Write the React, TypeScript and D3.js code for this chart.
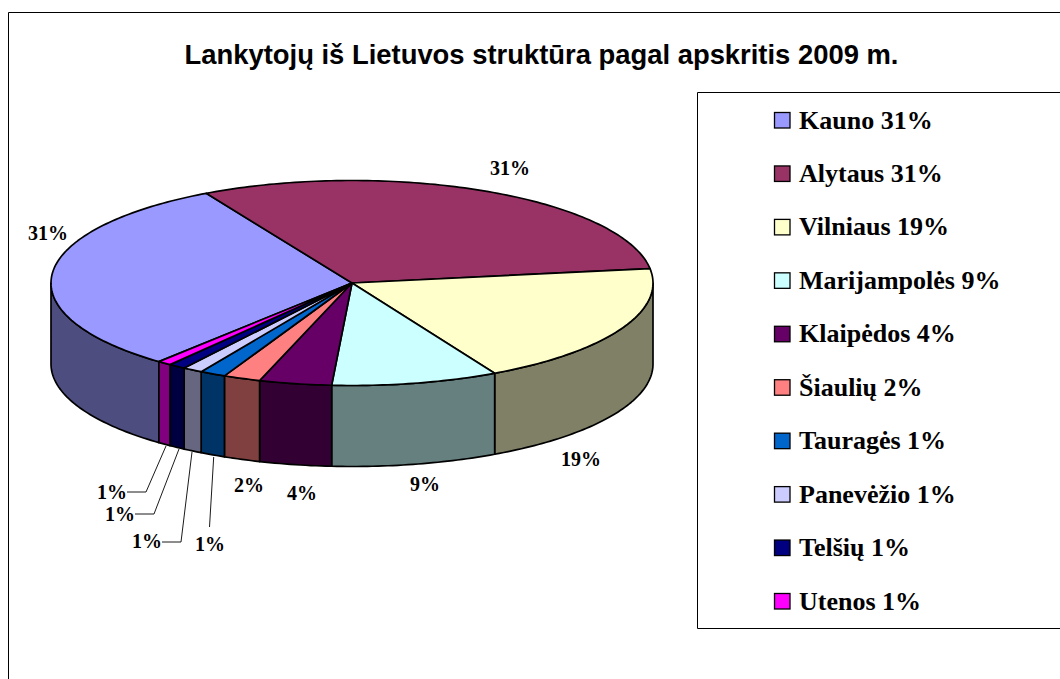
import React from "react";
import * as d3 from "d3";

const title = "Lankytojų iš Lietuvos struktūra pagal apskritis 2009 m.";
const categories = ["Kauno", "Alytaus", "Vilniaus", "Marijampolės", "Klaipėdos", "Šiaulių", "Tauragės", "Panevėžio", "Telšių", "Utenos"];
const values = [30.88, 30.82, 19.39, 8.94, 3.89, 2.0, 1.39, 1.06, 0.92, 0.75];
const percentLabels = ["31%", "31%", "19%", "9%", "4%", "2%", "1%", "1%", "1%", "1%"];
const colors = ["#9999FF", "#993366", "#FFFFCC", "#CCFFFF", "#660066", "#FF8080", "#0066CC", "#CCCCFF", "#000080", "#FF00FF"];

const W = 1060, H = 679;
const cx = 352, cy = 283, rx = 301, ry = 102.5, depth = 81;
const startDeg = 219.9;

const labelPos: [number, number][] = [
  [48, 233], [510, 168], [581, 459], [425, 484], [302, 493], [249, 485],
  [210, 544], [147, 541], [120, 514], [112, 492],
];
const leaders: ([number, number][] | null)[] = [
  null, null, null, null, null, null,
  [[209.5, 527], [213.7, 457]],
  [[162, 542], [181, 542], [192, 452]],
  [[135, 514], [154, 514], [179, 449]],
  [[127, 492], [146, 492], [166, 446]],
];

const rad = (d: number) => (d * Math.PI) / 180;
const px = (a: number) => cx + rx * Math.sin(a);
const py = (a: number) => cy - ry * Math.cos(a);

const pie = d3.pie<number>().sort(null).startAngle(rad(startDeg)).endAngle(rad(startDeg + 360));
const arcs = pie(values);
const line = d3.line();
const dark = (c: string) => {
  const r = d3.rgb(c);
  return d3.rgb(r.r / 2, r.g / 2, r.b / 2).formatHex();
};
const samples = (a0: number, a1: number) => {
  const n = Math.max(2, Math.ceil((a1 - a0) / rad(1)));
  return d3.range(n + 1).map((i) => a0 + ((a1 - a0) * i) / n);
};
const topPath = (a0: number, a1: number) =>
  line([[cx, cy], ...samples(a0, a1).map((a) => [px(a), py(a)] as [number, number])])! + "Z";
const wallPath = (a0: number, a1: number) => {
  const lo = Math.max(a0, rad(90));
  const hi = Math.min(a1, rad(270));
  if (hi <= lo) return null;
  const s = samples(lo, hi);
  const upper = s.map((a) => [px(a), py(a)] as [number, number]);
  const lower = s.slice().reverse().map((a) => [px(a), py(a) + depth] as [number, number]);
  return line([...upper, ...lower])! + "Z";
};

const legendY = d3.scalePoint<string>().domain(categories).range([120, 601]);

export default function App() {
  const serif = "'Liberation Serif', serif";
  const walls = arcs.flatMap((d, i) => {
    const out: { p: string; i: number }[] = [];
    for (const shift of [0, -2 * Math.PI]) {
      const p = wallPath(d.startAngle + shift, d.endAngle + shift);
      if (p) out.push({ p, i });
    }
    return out;
  });
  return (
    <svg width={W} height={H} style={{ position: "absolute", left: 0, top: 0, display: "block", background: "#fff" }}>
      <path d={`M8.5 ${H}V12.5H${W}`} fill="none" stroke="#000" strokeWidth={1} />
      <text x={541.5} y={63.5} textAnchor="middle" fontFamily="'Liberation Sans', sans-serif" fontWeight="bold" fontSize={27.4}>
        {title}
      </text>

      {walls.map((w, k) => (
        <path key={k} d={w.p} fill={dark(colors[w.i])} stroke="#000" strokeWidth={1.7} strokeLinejoin="round" />
      ))}
      {arcs.map((d, i) => (
        <path key={i} d={topPath(d.startAngle, d.endAngle)} fill={colors[i]} stroke="#000" strokeWidth={1.7} strokeLinejoin="round" />
      ))}

      {leaders.map((l, i) =>
        l ? <path key={i} d={line(l)!} fill="none" stroke="#000" strokeWidth={0.9} /> : null
      )}
      {percentLabels.map((t, i) => (
        <text key={i} x={labelPos[i][0]} y={labelPos[i][1]} dy="0.33em" textAnchor="middle" fontFamily={serif} fontWeight="bold" fontSize={20}>
          {t}
        </text>
      ))}

      <path d={`M${W} 92.5H697.5V628.5H${W}`} fill="#fff" stroke="#000" strokeWidth={1} />
      {categories.map((c, i) => (
        <g key={c}>
          <rect x={774.5} y={legendY(c)! - 7.5} width={15.5} height={15.5} fill={colors[i]} stroke="#000" strokeWidth={1.3} />
          <text x={799} y={legendY(c)!} dy="0.33em" fontFamily={serif} fontWeight="bold" fontSize={26}>
            {`${c} ${percentLabels[i]}`}
          </text>
        </g>
      ))}
    </svg>
  );
}
